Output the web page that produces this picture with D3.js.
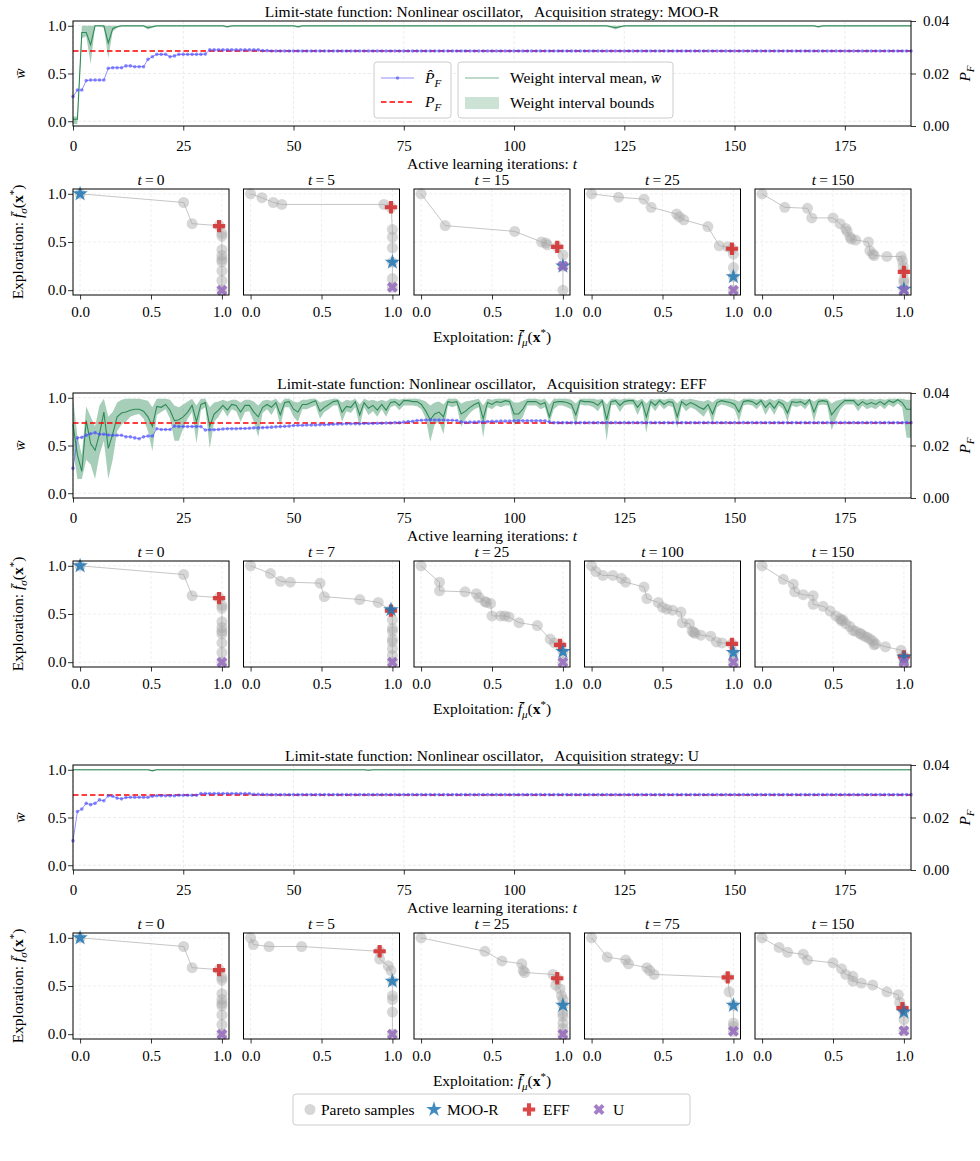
<!DOCTYPE html>
<html>
<head>
<meta charset="utf-8">
<script src="https://cdn.jsdelivr.net/npm/d3@7"></script>
<style>
body { margin: 0; background: #fff; }
svg, svg text { font-family: "Liberation Serif", "Times New Roman", serif; }
</style>
</head>
<body>
<div id="chart"></div>
<script>
// ---------- data ----------
var strategies = ["MOO-R", "EFF", "U"];
var xTicks = [0, 25, 50, 75, 100, 125, 150, 175];
var wTicks = [0, 0.5, 1.0];
var pTicks = [0, 0.02, 0.04];
var snapTicks = [0, 0.5, 1.0];
var PF = 0.0286;
var iters = d3.range(0, 191);

// weight interval mean / bounds in percent, P_hat in 1e-4
var mooMean = [
2,2,93,93,80,100,100,100,82,97,
99,100,100,100,100,100,100,98,99,100,
100,100,100,100,100,100,100,100,100,100,
100,100,100,100,100,99,100,100,100,100,
100,100,100,100,100,100,100,100,100,100,
100,99,100,100,100,100,100,100,100,100,
100,100,100,100,100,100,100,100,100,100,
100,100,100,100,100,100,100,100,100,100,
100,100,100,100,100,100,100,100,100,100,
100,100,100,100,100,100,100,100,100,100,
100,100,100,100,100,100,100,100,100,100,
100,100,100,100,100,100,100,100,100,100,
100,100,99,98,99,100,100,100,100,100,
100,100,100,100,100,100,100,100,100,100,
100,100,100,100,100,100,100,100,100,100,
100,100,100,100,100,100,100,100,100,100,
100,100,100,100,100,100,100,100,100,99,
100,100,100,100,100,100,100,100,100,100,
100,100,100,100,100,100,100,100,100,100,
100];
var mooLo = [
-3,-3,87,89,60,99,99,98,66,94,
98,99,99,99,99,99,99,96,98,99,
99,99,99,99,99,99,99,99,99,99,
99,99,99,99,99,98,99,99,99,99,
99,99,99,99,99,99,99,99,99,99,
99,98,99,99,99,99,99,99,99,99,
99,99,99,99,99,99,99,99,99,99,
99,99,99,99,99,99,99,99,99,99,
99,99,99,99,99,99,99,99,99,99,
99,99,99,99,99,99,99,99,99,99,
99,99,99,99,99,99,99,99,99,99,
99,99,99,99,99,99,99,99,99,99,
99,99,98,96,98,99,99,99,99,99,
99,99,99,99,99,99,99,99,99,99,
99,99,99,99,99,99,99,99,99,99,
99,99,99,99,99,99,99,99,99,99,
99,99,99,99,99,99,99,99,99,98,
99,99,99,99,99,99,99,99,99,99,
99,99,99,99,99,99,99,99,99,99,
99];
var mooHi = [
5,5,100,100,100,100,100,100,100,100,
100,100,100,100,100,100,100,100,100,100,
100,100,100,100,100,100,100,100,100,100,
100,100,100,100,100,100,100,100,100,100,
100,100,100,100,100,100,100,100,100,100,
100,100,100,100,100,100,100,100,100,100,
100,100,100,100,100,100,100,100,100,100,
100,100,100,100,100,100,100,100,100,100,
100,100,100,100,100,100,100,100,100,100,
100,100,100,100,100,100,100,100,100,100,
100,100,100,100,100,100,100,100,100,100,
100,100,100,100,100,100,100,100,100,100,
100,100,100,100,100,100,100,100,100,100,
100,100,100,100,100,100,100,100,100,100,
100,100,100,100,100,100,100,100,100,100,
100,100,100,100,100,100,100,100,100,100,
100,100,100,100,100,100,100,100,100,100,
100,100,100,100,100,100,100,100,100,100,
100,100,100,100,100,100,100,100,100,100,
100];
var mooPhat = [
112,137,137,173,175,175,175,175,220,222,
222,222,229,229,226,226,226,254,264,273,
273,273,264,267,273,273,273,273,273,273,
274,290,290,290,290,290,290,290,290,290,
290,290,290,287,287,286,286,286,286,286,
286,286,286,286,286,286,286,286,286,286,
286,286,286,286,286,286,286,286,286,286,
286,286,286,286,286,286,286,286,286,286,
286,286,286,286,286,286,286,286,286,286,
286,286,286,286,286,286,286,286,286,286,
286,286,286,286,286,286,286,286,286,286,
286,286,286,286,286,286,286,286,286,286,
286,286,286,286,286,286,286,286,286,286,
286,286,286,286,286,286,286,286,286,286,
286,286,286,286,286,286,286,286,286,286,
286,286,286,286,286,286,286,286,286,286,
286,286,286,286,286,286,286,286,286,286,
286,286,286,286,286,286,286,286,286,286,
286,286,286,286,286,286,286,286,286,286,
286];

var effMean = [
72,40,23,76,52,45,62,85,47,62,
80,84,85,87,88,88,86,80,70,91,
90,93,87,76,77,80,85,92,75,93,
95,70,83,87,92,87,93,92,85,92,
92,85,80,90,93,90,95,82,95,96,
88,85,93,93,95,97,86,90,93,96,
97,85,91,90,96,82,95,89,92,87,
93,87,95,96,92,97,97,96,96,93,
86,77,83,85,80,96,95,96,83,86,
90,93,95,78,95,93,96,95,97,96,
83,83,88,96,96,96,93,95,80,95,
96,96,95,93,82,97,96,96,95,92,
97,77,96,97,92,96,97,97,90,96,
80,96,92,97,93,96,95,80,96,92,
95,93,90,88,93,83,95,97,96,95,
93,85,96,97,96,93,97,90,95,89,
96,93,84,96,95,96,93,98,85,96,
97,96,82,88,93,97,97,97,92,96,
93,95,93,96,93,97,95,98,95,88,
88];
var effLo = [
45,15,15,35,30,15,40,55,15,35,
65,72,75,80,82,83,78,65,44,82,
85,88,78,55,55,68,78,85,52,87,
90,47,75,80,88,80,88,86,75,85,
86,75,59,84,88,82,90,70,90,90,
80,75,88,88,90,92,78,85,88,92,
92,75,86,84,90,70,90,82,86,80,
88,80,90,92,87,92,92,92,91,88,
78,54,72,75,62,92,90,92,70,78,
84,88,90,58,90,88,92,90,92,92,
72,73,80,92,92,92,88,90,73,88,
92,92,90,88,70,93,92,92,90,86,
93,55,92,93,85,92,93,93,82,92,
63,92,86,93,88,92,90,68,92,86,
90,88,84,80,88,73,90,93,92,90,
88,75,92,93,92,88,93,82,90,82,
92,88,75,92,90,92,88,94,75,92,
93,92,66,78,88,93,93,93,86,92,
88,90,88,92,88,93,90,94,90,58,
58];
var effHi = [
100,60,40,91,80,70,92,99,80,85,
95,98,99,99,99,99,98,97,90,99,
99,99,98,92,90,93,96,99,92,99,
99,90,95,96,98,96,98,98,95,98,
98,96,92,97,98,97,99,94,99,99,
96,95,98,98,99,99,95,97,98,99,
99,95,98,97,99,93,99,97,98,96,
98,96,99,99,98,99,99,99,99,98,
96,92,95,96,93,99,99,99,94,96,
97,98,99,92,99,98,99,99,99,99,
95,95,97,99,99,99,98,99,93,99,
99,99,99,98,94,99,99,99,99,98,
99,93,99,99,98,99,99,99,97,99,
94,99,98,99,98,99,99,94,99,98,
99,98,97,96,98,95,99,99,99,99,
98,96,99,99,99,98,99,97,99,97,
99,98,95,99,99,99,98,99,96,99,
99,99,94,97,98,99,99,99,98,99,
98,99,98,99,98,99,99,99,99,98,
98];
var effPhat = [
113,229,231,239,245,249,243,243,240,239,
239,239,233,233,229,226,233,236,236,264,
261,261,261,274,272,272,272,272,272,272,
259,260,260,261,263,264,264,264,265,265,
266,267,267,268,269,270,271,272,273,274,
276,277,277,278,278,278,279,279,280,281,
282,282,283,283,283,283,284,284,284,285,
285,286,286,287,287,289,291,292,295,296,
297,297,297,297,297,296,296,295,290,288,
289,289,290,290,291,292,292,293,293,293,
294,294,294,294,294,294,294,294,290,287,
287,287,287,287,287,287,287,287,287,287,
287,287,287,287,287,287,287,287,287,287,
287,287,287,287,287,287,287,287,287,287,
287,287,287,287,287,287,287,287,287,287,
287,287,287,287,287,287,287,287,287,287,
287,287,287,287,287,287,287,287,287,287,
287,287,287,287,287,287,287,287,287,287,
287,287,287,287,287,287,287,287,287,287,
287];

var uMean = [
100,100,100,100,100,100,100,100,100,100,
100,100,100,100,100,100,100,100,99,100,
100,100,100,100,100,100,100,100,100,100,
100,100,100,100,100,100,100,100,100,100,
100,100,100,100,100,100,100,100,100,100,
100,100,100,100,100,100,100,100,100,100,
100,100,100,100,100,100,100,99.5,100,100,
100,100,100,100,100,100,100,100,100,100,
100,100,100,100,100,100,100,100,100,100,
100,100,100,100,100,100,100,100,100,100,
100,100,100,100,100,100,100,100,100,100,
100,100,100,100,100,100,100,100,100,100,
100,100,100,100,100,100,100,100,100,100,
100,100,100,100,100,100,100,100,100,100,
100,100,100,100,100,100,100,100,100,100,
100,100,100,100,100,100,100,100,100,100,
100,100,100,100,100,100,100,100,100,100,
100,100,100,100,100,100,100,100,100,100,
100,100,100,100,100,100,100,100,100,100,
100];
var uLo = [
99.5,99.5,99.5,99.5,99.5,99.5,99.5,99.5,99.5,99.5,
99.5,99.5,99.5,99.5,99.5,99.5,99.5,99.5,98,99.5,
99.5,99.5,99.5,99.5,99.5,99.5,99.5,99.5,99.5,99.5,
99.5,99.5,99.5,99.5,99.5,99.5,99.5,99.5,99.5,99.5,
99.5,99.5,99.5,99.5,99.5,99.5,99.5,99.5,99.5,99.5,
99.5,99.5,99.5,99.5,99.5,99.5,99.5,99.5,99.5,99.5,
99.5,99.5,99.5,99.5,99.5,99.5,99.5,99,99.5,99.5,
99.5,99.5,99.5,99.5,99.5,99.5,99.5,99.5,99.5,99.5,
99.5,99.5,99.5,99.5,99.5,99.5,99.5,99.5,99.5,99.5,
99.5,99.5,99.5,99.5,99.5,99.5,99.5,99.5,99.5,99.5,
99.5,99.5,99.5,99.5,99.5,99.5,99.5,99.5,99.5,99.5,
99.5,99.5,99.5,99.5,99.5,99.5,99.5,99.5,99.5,99.5,
99.5,99.5,99.5,99.5,99.5,99.5,99.5,99.5,99.5,99.5,
99.5,99.5,99.5,99.5,99.5,99.5,99.5,99.5,99.5,99.5,
99.5,99.5,99.5,99.5,99.5,99.5,99.5,99.5,99.5,99.5,
99.5,99.5,99.5,99.5,99.5,99.5,99.5,99.5,99.5,99.5,
99.5,99.5,99.5,99.5,99.5,99.5,99.5,99.5,99.5,99.5,
99.5,99.5,99.5,99.5,99.5,99.5,99.5,99.5,99.5,99.5,
99.5,99.5,99.5,99.5,99.5,99.5,99.5,99.5,99.5,99.5,
99.5];
var uHi = mooHi.slice(2).concat([100, 100]);
var uPhat = [
111,223,232,254,249,254,267,264,283,281,
274,271,276,277,277,277,277,277,281,283,
283,283,283,283,285,285,285,285,285,291,
291,291,291,291,291,291,291,291,291,291,
291,288,288,288,287,287,287,287,287,287,
287,287,287,287,287,287,287,287,287,287,
287,287,287,287,287,287,287,287,287,287,
287,287,287,287,287,287,287,287,287,287,
287,287,287,287,287,287,287,287,287,287,
287,287,287,287,287,287,287,287,287,287,
287,287,287,287,287,287,287,287,287,287,
287,287,287,287,287,287,287,287,287,287,
287,287,287,287,287,287,287,287,287,287,
287,287,287,287,287,287,287,287,287,287,
287,287,287,287,287,287,287,287,287,287,
287,287,287,287,287,287,287,287,287,287,
287,287,287,287,287,287,287,287,287,287,
287,287,287,287,287,287,287,287,287,287,
287,287,287,287,287,287,287,287,287,287,
287];

// Pareto fronts (exploitation x, exploration y) at selected iterations
var front0X = [0,0.73,0.79,0.98,1,1,1,1,1,1,1,1,1];
var front0Y = [1,0.91,0.69,0.67,0.59,0.56,0.42,0.36,0.32,0.295,0.2,0.1,0];

var mooSnapT = [0, 5, 15, 25, 150];
var mooFx = [
  front0X,
  [0,0.08,0.16,0.22,0.94,0.99,1,1,1,1,1,1],
  [0,0.17,0.66,0.85,0.88,0.89,0.96,1,1,1],
  [0,0.19,0.37,0.42,0.6,0.62,0.65,0.82,0.9,0.96,0.99,1,1,1,1],
  [0,0.16,0.32,0.35,0.5,0.55,0.59,0.6,0.62,0.63,0.66,0.75,0.76,0.78,0.79,0.88,0.98,0.99,0.995,1,1,1,1]
];
var mooFy = [
  front0Y,
  [1,0.96,0.91,0.89,0.89,0.86,0.63,0.55,0.44,0.29,0.12,0.03],
  [1,0.67,0.61,0.5,0.49,0.47,0.45,0.365,0.25,0],
  [1,0.965,0.944,0.86,0.79,0.76,0.73,0.66,0.46,0.45,0.43,0.375,0.235,0.14,0],
  [1,0.86,0.85,0.75,0.75,0.69,0.64,0.61,0.55,0.53,0.52,0.5,0.41,0.375,0.36,0.35,0.35,0.305,0.245,0.19,0.11,0.08,0.01]
];
var mooStar = [[0,1],[1,0.29],[1,0.25],[1,0.14],[1,0.01]];
var mooPlus = [[0.98,0.665],[0.99,0.86],[0.96,0.45],[0.99,0.43],[1,0.19]];
var mooCross = [[1,0],[1,0.03],[1,0.25],[1,0],[1,0]];

var effSnapT = [0, 7, 25, 100, 150];
var effFx = [
  front0X,
  [0,0.14,0.21,0.28,0.49,0.52,0.77,0.9,0.99,1,1,1,1,1,1,1,1],
  [0,0.13,0.13,0.31,0.39,0.41,0.45,0.46,0.49,0.5,0.56,0.59,0.62,0.69,0.82,0.91,0.94,0.98,1,1],
  [0,0.03,0.08,0.15,0.21,0.24,0.37,0.39,0.47,0.5,0.53,0.57,0.63,0.64,0.69,0.71,0.72,0.73,0.77,0.84,0.88,0.92,0.99,1,1],
  [0,0.15,0.22,0.23,0.29,0.36,0.36,0.43,0.48,0.52,0.55,0.56,0.57,0.59,0.62,0.64,0.66,0.69,0.7,0.72,0.74,0.76,0.78,0.79,0.8,0.87,0.98,1,1,1]
];
var effFy = [
  front0Y,
  [1,0.92,0.84,0.83,0.82,0.68,0.65,0.62,0.54,0.44,0.35,0.32,0.24,0.21,0.14,0.07,0],
  [1,0.83,0.74,0.73,0.71,0.67,0.63,0.62,0.61,0.48,0.48,0.48,0.47,0.41,0.38,0.24,0.2,0.18,0.11,0],
  [1,0.94,0.9,0.9,0.87,0.83,0.78,0.66,0.62,0.57,0.55,0.54,0.52,0.41,0.4,0.32,0.31,0.3,0.28,0.27,0.21,0.2,0.19,0.1,0],
  [1,0.86,0.81,0.73,0.7,0.69,0.6,0.58,0.53,0.48,0.45,0.43,0.44,0.4,0.37,0.33,0.32,0.3,0.29,0.27,0.26,0.24,0.22,0.18,0.19,0.16,0.125,0.06,0.05,0]
];
var effStar = [[0,1],[0.99,0.545],[1,0.11],[1,0.1],[1,0.05]];
var effPlus = [[0.98,0.665],[0.99,0.535],[0.98,0.18],[0.99,0.19],[1,0.06]];
var effCross = [[1,0],[1,0],[1,0],[1,0],[1,0]];

var uSnapT = [0, 5, 25, 75, 150];
var uFx = [
  front0X,
  [0,0.02,0.13,0.36,0.91,0.91,0.97,0.99,1,1,1,1,1],
  [0,0.45,0.57,0.71,0.72,0.73,0.93,0.96,0.95,0.98,0.99,1,1,1,1,1,1,1],
  [0,0.11,0.24,0.26,0.39,0.41,0.44,0.96,0.97,1,1,1,1],
  [0,0.12,0.18,0.29,0.32,0.5,0.56,0.59,0.64,0.64,0.7,0.78,0.88,0.96,0.97,0.99,1,1,1]
];
var uFy = [
  front0Y,
  [1,0.93,0.91,0.91,0.86,0.78,0.71,0.66,0.55,0.4,0.36,0.23,0],
  [1,0.86,0.76,0.73,0.66,0.64,0.62,0.58,0.51,0.47,0.4,0.36,0.3,0.22,0.185,0.115,0.06,0],
  [1,0.8,0.77,0.73,0.69,0.66,0.62,0.59,0.44,0.3,0.115,0.08,0.03],
  [1,0.9,0.85,0.83,0.77,0.74,0.68,0.62,0.6,0.55,0.53,0.51,0.44,0.41,0.33,0.27,0.23,0.15,0.035]
];
var uStar = [[0,1],[1,0.55],[1,0.3],[1,0.3],[1,0.23]];
var uPlus = [[0.98,0.665],[0.91,0.86],[0.96,0.58],[0.96,0.59],[0.99,0.27]];
var uCross = [[1,0],[1,0],[1,0],[1,0.03],[1,0.035]];

// ---------- layout ----------
var FONT = '"Liberation Serif", "Times New Roman", serif';
var FS = 15.5, TFS = 15;
var blockTop = [21, 393, 765];
var plotL = 73, plotR = 911, plotH = 105;
var snapW = 156, snapGap = 14.5, snapH = 106, snapOff = 168;
var cMoo = "#1f77b4", cEff = "#d62728", cU = "#9467bd";
var green = "#2e8b57", blue = "#4646ff";

var svg = d3.select("#chart").append("svg")
	.attr("width", 980).attr("height", 1161)
	.attr("font-family", FONT);

var x = d3.scaleLinear().domain([0, 190]).range([plotL, plotR]);

function styleAxis(ax) {
	ax.attr("font-family", FONT).attr("font-size", TFS);
	ax.select(".domain").remove();
	ax.selectAll("line").attr("stroke", "#000").attr("stroke-width", 0.8);
	ax.selectAll("text").attr("fill", "#000");
}

var starSym = d3.symbol().type(d3.symbolStar).size(75);
var plusSym = d3.symbol().type(d3.symbolCross).size(85);
var crossSym = d3.symbol().type(d3.symbolCross).size(75);

function drawMain(k, mean, lo, hi, phat) {
	var top = blockTop[k];
	var g = svg.append("g").attr("transform", "translate(0," + top + ")");
	var yl = d3.scaleLinear().domain([-0.05, 1.05]).range([plotH, 0]);
	var yr = d3.scaleLinear().domain([0, 0.04]).range([plotH, 0]);

	// faint grid
	g.selectAll(".gx").data(xTicks).join("line").attr("class", "gx")
		.attr("x1", function(d) { return x(d); }).attr("x2", function(d) { return x(d); })
		.attr("y1", 0).attr("y2", plotH)
		.attr("stroke", "#e4e4e4").attr("stroke-width", 0.7).attr("stroke-dasharray", "3,2");
	g.selectAll(".gy").data(wTicks).join("line").attr("class", "gy")
		.attr("x1", plotL).attr("x2", plotR)
		.attr("y1", function(d) { return yl(d); }).attr("y2", function(d) { return yl(d); })
		.attr("stroke", "#e4e4e4").attr("stroke-width", 0.7).attr("stroke-dasharray", "3,2");

	var band = d3.area()
		.x(function(d, i) { return x(iters[i]); })
		.y0(function(d, i) { return yl(lo[i] / 100); })
		.y1(function(d, i) { return yl(hi[i] / 100); });
	g.append("path").datum(mean).attr("d", band)
		.attr("fill", green).attr("fill-opacity", 0.42);

	var meanLine = d3.line()
		.x(function(d, i) { return x(iters[i]); })
		.y(function(d) { return yl(d / 100); });
	g.append("path").datum(mean).attr("d", meanLine)
		.attr("fill", "none").attr("stroke", green).attr("stroke-width", 1.1);

	g.append("line")
		.attr("x1", plotL).attr("x2", plotR)
		.attr("y1", yr(PF)).attr("y2", yr(PF))
		.attr("stroke", "#ff0000").attr("stroke-width", 1.5).attr("stroke-dasharray", "5.5,3");

	var pLine = d3.line()
		.x(function(d, i) { return x(iters[i]); })
		.y(function(d) { return yr(d * 1e-4); });
	g.append("path").datum(phat).attr("d", pLine)
		.attr("fill", "none").attr("stroke", blue).attr("stroke-opacity", 0.6).attr("stroke-width", 1);
	g.selectAll(".pdot").data(phat).join("circle").attr("class", "pdot")
		.attr("cx", function(d, i) { return x(iters[i]); })
		.attr("cy", function(d) { return yr(d * 1e-4); })
		.attr("r", 1.8).attr("fill", blue).attr("fill-opacity", 0.6);

	var ax = g.append("g").attr("transform", "translate(0," + plotH + ")")
		.call(d3.axisBottom(x).tickValues(xTicks).tickSize(4.5).tickPadding(10));
	styleAxis(ax);
	var al = g.append("g").attr("transform", "translate(" + plotL + ",0)")
		.call(d3.axisLeft(yl).tickValues(wTicks).tickFormat(d3.format(".1f")).tickSize(5).tickPadding(1.5));
	styleAxis(al);
	var ar = g.append("g").attr("transform", "translate(" + plotR + ",0)")
		.call(d3.axisRight(yr).tickValues(pTicks).tickFormat(d3.format(".2f")).tickSize(5).tickPadding(7));
	styleAxis(ar);

	g.append("rect").attr("x", plotL).attr("y", 0).attr("width", plotR - plotL).attr("height", plotH)
		.attr("fill", "none").attr("stroke", "#000").attr("stroke-width", 1);

	g.append("text").attr("x", 492).attr("y", -4).attr("text-anchor", "middle")
		.attr("font-size", FS).style("white-space", "pre")
		.text("Limit-state function: Nonlinear oscillator,   Acquisition strategy: " + strategies[k]);

	var xl = g.append("text").attr("x", 492).attr("y", plotH + 42.5).attr("text-anchor", "middle").attr("font-size", FS);
	xl.append("tspan").text("Active learning iterations: ");
	xl.append("tspan").attr("font-style", "italic").text("t");

	g.append("text").attr("transform", "translate(25," + (plotH / 2) + ") rotate(-90)")
		.attr("text-anchor", "middle").attr("font-size", FS).attr("font-style", "italic")
		.text("w\u0304");

	var pl = g.append("text").attr("transform", "translate(970," + (plotH / 2) + ") rotate(-90)")
		.attr("text-anchor", "middle").attr("font-size", FS).attr("font-style", "italic");
	pl.append("tspan").text("P");
	pl.append("tspan").attr("font-size", 11).attr("dy", 4).text("F");

	if (k === 0) drawTopLegend(g);
}

function drawTopLegend(g) {
	var b1 = g.append("g");
	b1.append("rect").attr("x", 374).attr("y", 41).attr("width", 77).attr("height", 56).attr("rx", 3)
		.attr("fill", "#fff").attr("fill-opacity", 0.85).attr("stroke", "#cccccc");
	b1.append("line").attr("x1", 381).attr("x2", 414).attr("y1", 57).attr("y2", 57)
		.attr("stroke", blue).attr("stroke-opacity", 0.6).attr("stroke-width", 1);
	b1.append("circle").attr("cx", 397.5).attr("cy", 57).attr("r", 1.8).attr("fill", blue).attr("fill-opacity", 0.6);
	var t1 = b1.append("text").attr("x", 425).attr("y", 62).attr("font-size", FS).attr("font-style", "italic");
	t1.append("tspan").text("P\u0302");
	t1.append("tspan").attr("font-size", 11).attr("dy", 4).text("F");
	b1.append("line").attr("x1", 381).attr("x2", 414).attr("y1", 81).attr("y2", 81)
		.attr("stroke", "#ff0000").attr("stroke-width", 1.5).attr("stroke-dasharray", "5.5,3");
	var t2 = b1.append("text").attr("x", 425).attr("y", 86).attr("font-size", FS).attr("font-style", "italic");
	t2.append("tspan").text("P");
	t2.append("tspan").attr("font-size", 11).attr("dy", 4).text("F");

	var b2 = g.append("g");
	b2.append("rect").attr("x", 458).attr("y", 41).attr("width", 215).attr("height", 56).attr("rx", 3)
		.attr("fill", "#fff").attr("fill-opacity", 0.85).attr("stroke", "#cccccc");
	b2.append("line").attr("x1", 465).attr("x2", 499).attr("y1", 57).attr("y2", 57)
		.attr("stroke", green).attr("stroke-width", 0.8).attr("stroke-opacity", 0.8);
	var t3 = b2.append("text").attr("x", 510).attr("y", 62).attr("font-size", FS);
	t3.append("tspan").text("Weight interval mean, ");
	t3.append("tspan").attr("font-style", "italic").text("w\u0304");
	b2.append("rect").attr("x", 465).attr("y", 76).attr("width", 34).attr("height", 12)
		.attr("fill", green).attr("fill-opacity", 0.25);
	b2.append("text").attr("x", 510).attr("y", 87).attr("font-size", FS).text("Weight interval bounds");
}

function fLabel(sel, sub) {
	sel.append("tspan").attr("font-style", "italic").text("f\u0304");
	sel.append("tspan").attr("font-style", "italic").attr("font-size", 11).attr("dy", 4).text(sub);
	sel.append("tspan").attr("dy", -4).text("(");
	sel.append("tspan").attr("font-weight", "bold").text("x");
	sel.append("tspan").attr("font-size", 11).attr("dy", -6).text("*");
	sel.append("tspan").attr("dy", 6).text(")");
}

function drawSnaps(k, tVals, fx, fy, stars, pluses, crosses) {
	var top = blockTop[k] + snapOff;
	tVals.forEach(function(tv, j) {
		var left = plotL + j * (snapW + snapGap);
		var sx = d3.scaleLinear().domain([-0.05, 1.05]).range([left, left + snapW]);
		var sy = d3.scaleLinear().domain([-0.05, 1.05]).range([top + snapH, top]);
		var g = svg.append("g");

		g.selectAll(".sgx").data(snapTicks).join("line").attr("class", "sgx")
			.attr("x1", function(d) { return sx(d); }).attr("x2", function(d) { return sx(d); })
			.attr("y1", top).attr("y2", top + snapH)
			.attr("stroke", "#e8e8e8").attr("stroke-width", 0.7).attr("stroke-dasharray", "3,2");
		g.selectAll(".sgy").data(snapTicks).join("line").attr("class", "sgy")
			.attr("x1", left).attr("x2", left + snapW)
			.attr("y1", function(d) { return sy(d); }).attr("y2", function(d) { return sy(d); })
			.attr("stroke", "#e8e8e8").attr("stroke-width", 0.7).attr("stroke-dasharray", "3,2");

		var pts = fx[j].map(function(v, i) { return [v, fy[j][i]]; });
		g.append("path").datum(pts)
			.attr("d", d3.line().x(function(d) { return sx(d[0]); }).y(function(d) { return sy(d[1]); }))
			.attr("fill", "none").attr("stroke", "#b8b8b8").attr("stroke-width", 0.8);
		g.selectAll(".pp").data(pts).join("circle").attr("class", "pp")
			.attr("cx", function(d) { return sx(d[0]); })
			.attr("cy", function(d) { return sy(d[1]); })
			.attr("r", 5.5).attr("fill", "#a6a6a6").attr("fill-opacity", 0.45);

		g.append("path").attr("d", plusSym())
			.attr("transform", "translate(" + sx(pluses[j][0]) + "," + sy(pluses[j][1]) + ")")
			.attr("fill", cEff).attr("fill-opacity", 0.85);
		g.append("path").attr("d", starSym())
			.attr("transform", "translate(" + sx(stars[j][0]) + "," + sy(stars[j][1]) + ")")
			.attr("fill", cMoo).attr("fill-opacity", 0.85);
		g.append("path").attr("d", crossSym())
			.attr("transform", "translate(" + sx(crosses[j][0]) + "," + sy(crosses[j][1]) + ") rotate(45)")
			.attr("fill", cU).attr("fill-opacity", 0.85);

		var ax = g.append("g").attr("transform", "translate(0," + (top + snapH) + ")")
			.call(d3.axisBottom(sx).tickValues(snapTicks).tickFormat(d3.format(".1f")).tickSize(4.5).tickPadding(6.5));
		styleAxis(ax);
		if (j === 0) {
			var ay = g.append("g").attr("transform", "translate(" + left + ",0)")
				.call(d3.axisLeft(sy).tickValues(snapTicks).tickFormat(d3.format(".1f")).tickSize(5).tickPadding(1.5));
			styleAxis(ay);
		}
		g.append("rect").attr("x", left).attr("y", top).attr("width", snapW).attr("height", snapH)
			.attr("fill", "none").attr("stroke", "#000").attr("stroke-width", 1);

		var tt = g.append("text").attr("x", left + snapW / 2).attr("y", top - 4)
			.attr("text-anchor", "middle").attr("font-size", FS);
		tt.append("tspan").attr("font-style", "italic").text("t");
		tt.append("tspan").text("\u2009=\u2009" + tv);
	});

	var xl = svg.append("text").attr("x", 492).attr("y", top + snapH + 47)
		.attr("text-anchor", "middle").attr("font-size", FS);
	xl.append("tspan").text("Exploitation: ");
	fLabel(xl, "\u03bc");

	var yl = svg.append("text").attr("transform", "translate(23," + (top + snapH / 2) + ") rotate(-90)")
		.attr("text-anchor", "middle").attr("font-size", FS);
	yl.append("tspan").text("Exploration: ");
	fLabel(yl, "\u03c3");
}

drawMain(0, mooMean, mooLo, mooHi, mooPhat);
drawSnaps(0, mooSnapT, mooFx, mooFy, mooStar, mooPlus, mooCross);
drawMain(1, effMean, effLo, effHi, effPhat);
drawSnaps(1, effSnapT, effFx, effFy, effStar, effPlus, effCross);
drawMain(2, uMean, uLo, uHi, uPhat);
drawSnaps(2, uSnapT, uFx, uFy, uStar, uPlus, uCross);

// bottom legend
var lg = svg.append("g").attr("font-family", FONT);
lg.append("rect").attr("x", 293).attr("y", 1094).attr("width", 397).attr("height", 31).attr("rx", 3)
	.attr("fill", "#fff").attr("stroke", "#cccccc");
lg.append("circle").attr("cx", 310).attr("cy", 1109.5).attr("r", 5.5).attr("fill", "#a6a6a6").attr("fill-opacity", 0.45);
lg.append("text").attr("x", 321).attr("y", 1115).attr("font-size", FS).text("Pareto samples");
lg.append("path").attr("d", starSym()).attr("transform", "translate(434,1109.5)").attr("fill", cMoo).attr("fill-opacity", 0.85);
lg.append("text").attr("x", 447).attr("y", 1115).attr("font-size", FS).text("MOO-R");
lg.append("path").attr("d", plusSym()).attr("transform", "translate(529,1109.5)").attr("fill", cEff).attr("fill-opacity", 0.85);
lg.append("text").attr("x", 543).attr("y", 1115).attr("font-size", FS).text("EFF");
lg.append("path").attr("d", crossSym()).attr("transform", "translate(599,1109.5) rotate(45)").attr("fill", cU).attr("fill-opacity", 0.85);
lg.append("text").attr("x", 613).attr("y", 1115).attr("font-size", FS).text("U");
</script>
</body>
</html>
